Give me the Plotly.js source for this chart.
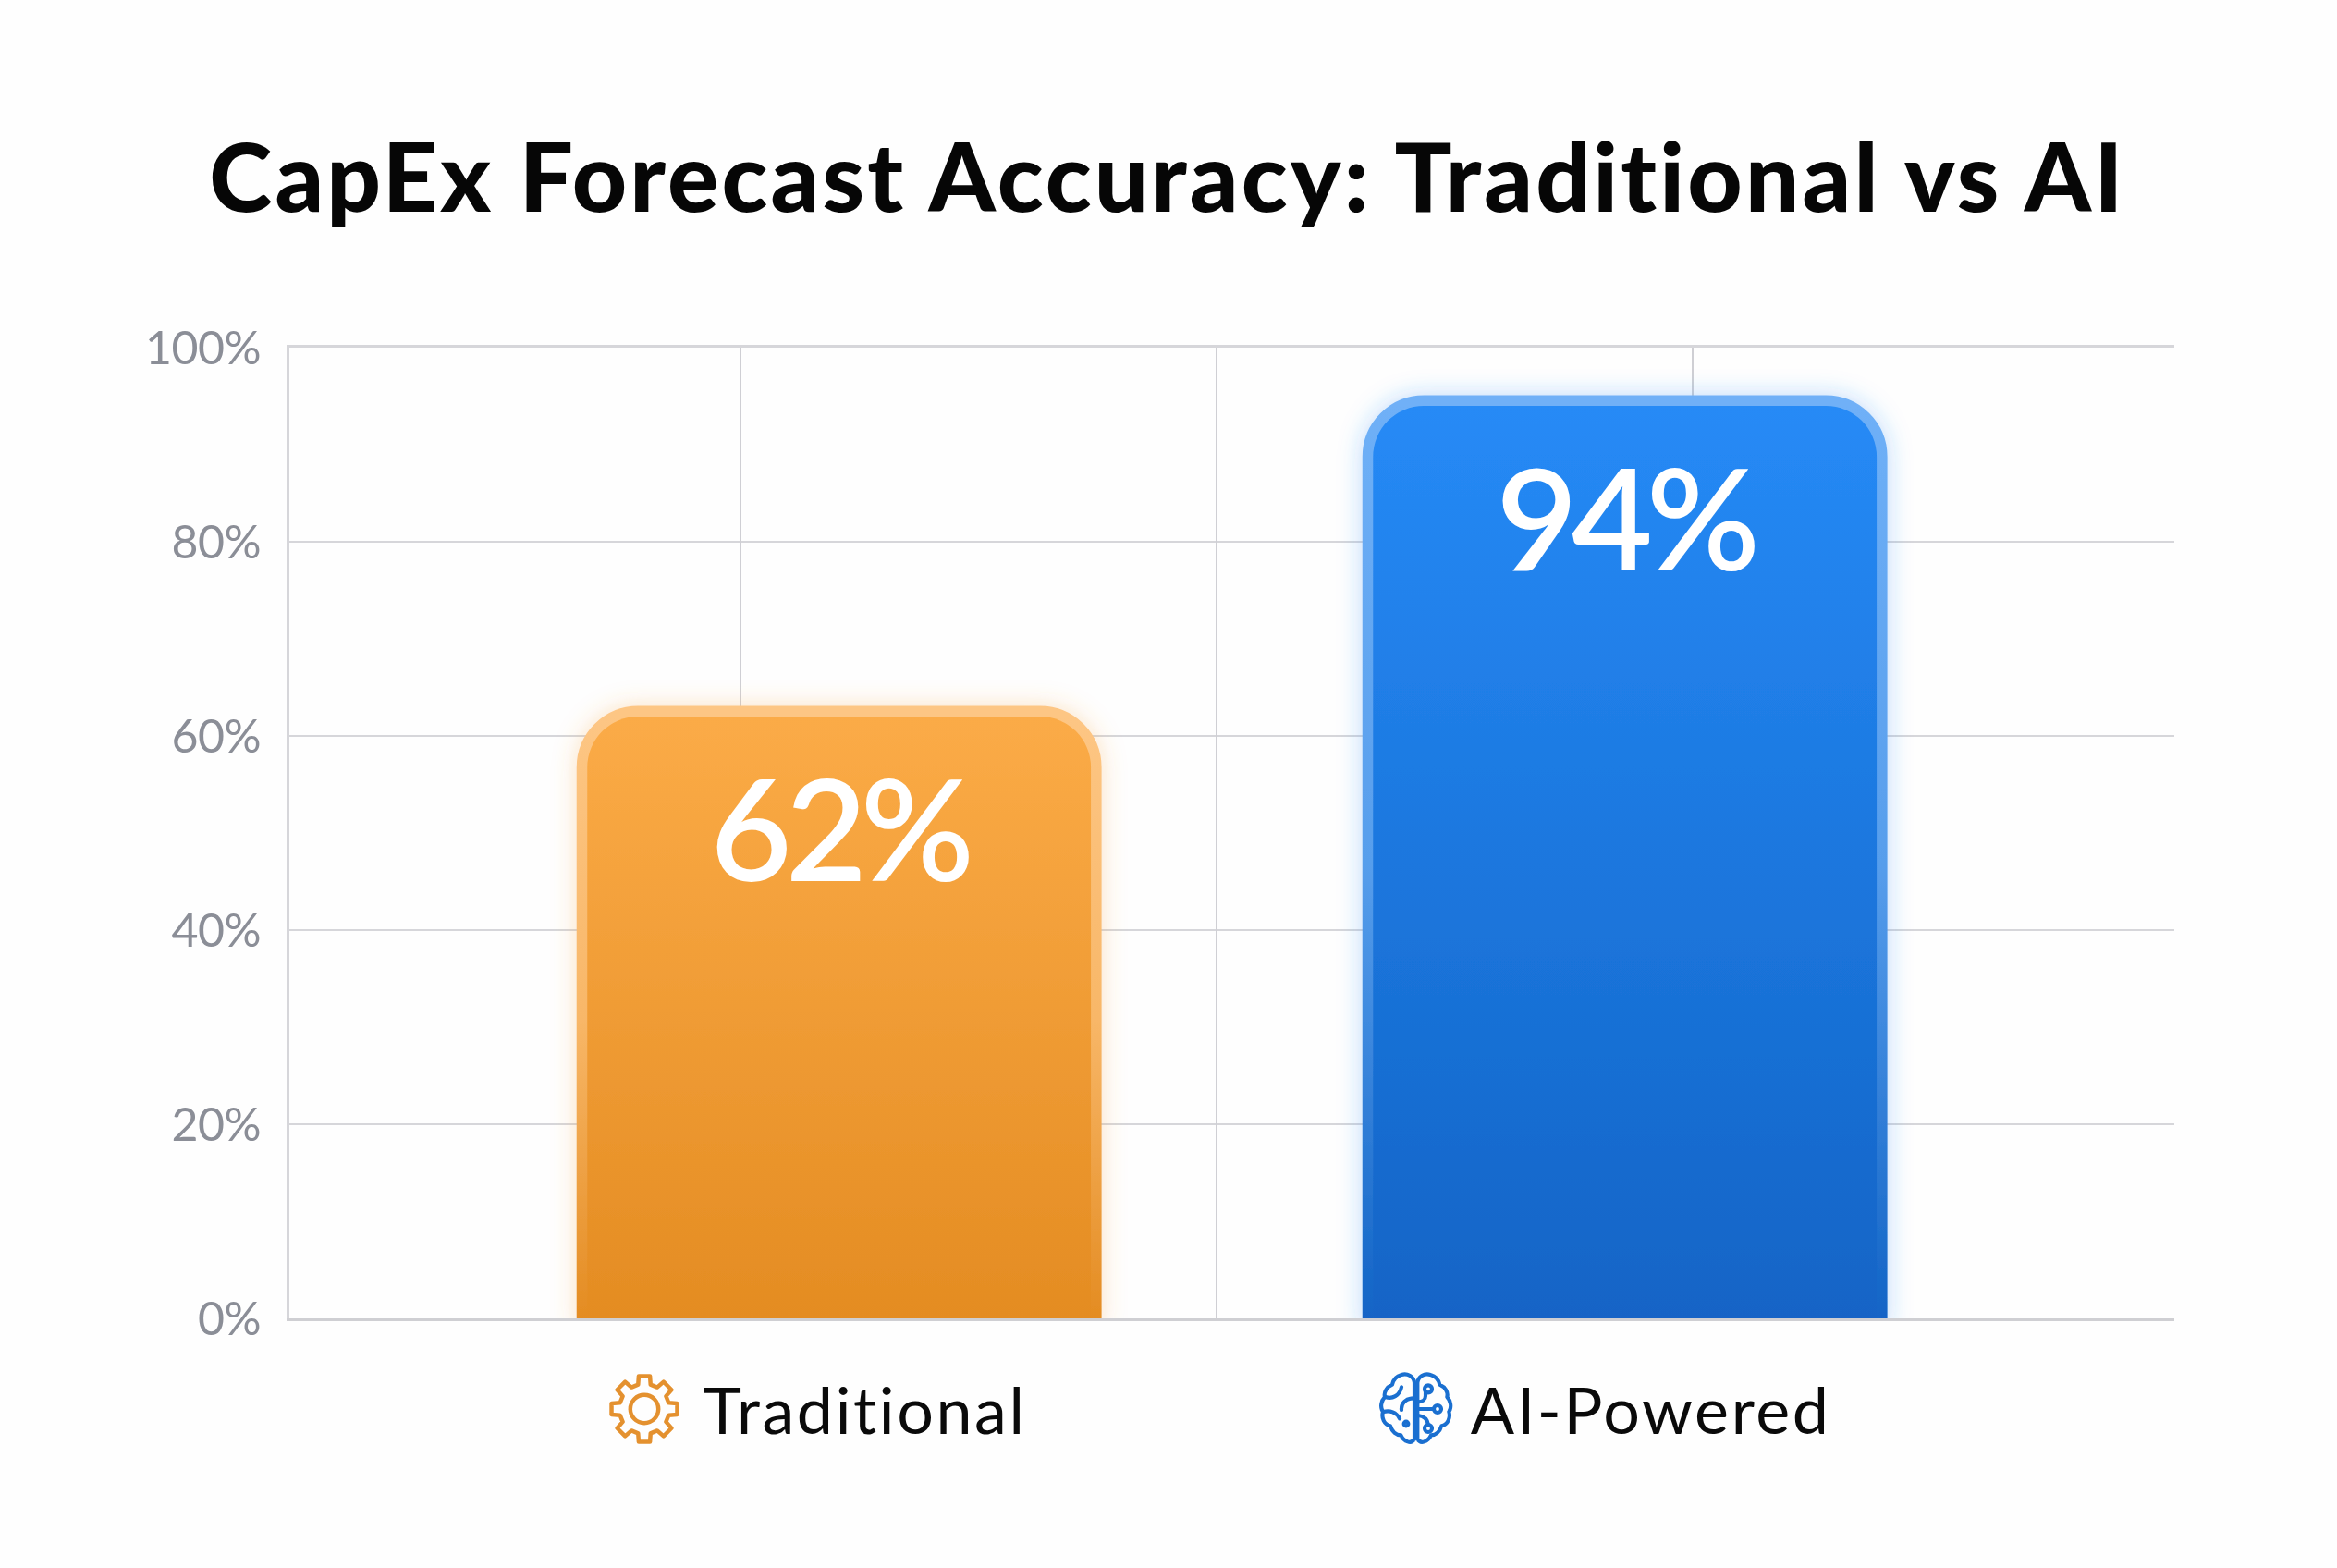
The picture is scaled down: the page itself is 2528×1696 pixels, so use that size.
<!DOCTYPE html>
<html><head><meta charset="utf-8">
<script src="https://cdn.plot.ly/plotly-3.0.1.min.js"></script>
<style>html,body{margin:0;padding:0;background:#fefefe}#chart{width:2528px;height:1696px}
#chart text{font-variant-ligatures:none}</style>
</head><body><div id="chart"></div>
<script>
const chartTitle = 'CapEx Forecast Accuracy: Traditional vs AI';
const categories = ['Traditional', 'AI-Powered'];
const accuracy = [62, 94];
const yTicks = [0, 20, 40, 60, 80, 100];
const gridX = [-0.125, 0.48, 1.086];
const FONT = 'Lato, sans-serif';

function gearPath() {
  let d = '';
  const teeth = 8, R = 45, r = 34, a = 0.17, b = 0.25;
  for (let i = 0; i < teeth; i++) {
    const t = -Math.PI / 2 + i * 2 * Math.PI / teeth;
    const pts = [[r, t - b], [R, t - a], [R, t + a], [r, t + b]];
    pts.forEach((p, j) => {
      d += ((i === 0 && j === 0) ? 'M' : 'L') + (50 + p[0] * Math.cos(p[1])).toFixed(2) + ' ' + (50 + p[0] * Math.sin(p[1])).toFixed(2);
    });
  }
  return d + 'Z';
}
const gearSvg = `<svg xmlns="http://www.w3.org/2000/svg" viewBox="0 0 100 100"><g fill="none" stroke="#e4912f" stroke-width="5.6" stroke-linejoin="round"><path d="${gearPath()}"/><circle cx="50" cy="50" r="19"/></g></svg>`;
const brainSvg = `<svg xmlns="http://www.w3.org/2000/svg" viewBox="0 0 300 300"><g fill="none" stroke="#1a6fd0" stroke-width="12.5" stroke-linecap="round" stroke-linejoin="round">
<path d="M150 245V62C148 42 128 30 108 36C92 40 82 50 78 68C60 76 50 92 54 108C42 120 38 142 48 156C42 176 52 198 72 202C78 222 92 232 106 232C116 254 140 262 150 245"/>
<path d="M160 245V62C162 42 182 30 202 36C218 40 228 50 232 68C250 76 260 92 256 108C268 120 272 142 262 156C268 176 258 198 238 202C232 222 218 232 204 232C194 254 170 262 160 245"/>
<path d="M56 108C78 116 102 104 108 76M50 156C70 150 92 158 102 178M108 150C106 128 122 112 148 112"/>
<circle cx="123" cy="195" r="7"/>
<circle cx="195" cy="82" r="12"/><path d="M186 94V104C186 116 176 124 162 124"/>
<circle cx="225" cy="147" r="12"/><path d="M213 147H162"/>
<circle cx="195" cy="210" r="12"/><path d="M195 198C192 178 180 170 162 168"/>
</g></svg>`;
const uri = s => 'data:image/svg+xml;charset=utf-8,' + encodeURIComponent(s);

const data = [
  { type: 'bar', x: categories, y: accuracy, xaxis: 'x', yaxis: 'y',
    marker: { color: ['#f5a33f', '#1c7ce0'], line: { color: ['#fdc684', '#6fb0f7'], width: 23 } },
    hoverinfo: 'x+y', showlegend: false },
  { type: 'scatter', mode: 'none', x: gridX, y: gridX.map(() => 0), xaxis: 'x2', yaxis: 'y',
    hoverinfo: 'skip', showlegend: false }
];
const gridColor = '#d6d6da';
const plotL = 313, plotR = 2352, plotT = 376, plotB = 1426;
const layout = {
  width: 2528, height: 1696,
  paper_bgcolor: '#fefefe', plot_bgcolor: 'rgba(0,0,0,0)',
  margin: { l: plotL, r: 2528 - plotR, t: plotT, b: 1696 - plotB, pad: 0, autoexpand: false },
  title: { text: chartTitle, x: 0.4996, xanchor: 'center', y: 0.886, yanchor: 'middle',
           font: { family: FONT, size: 103, weight: 900, color: '#060606' } },
  bargap: 0.359,
  barcornerradius: 55,
  xaxis: { type: 'category', categories: categories, categoryorder: 'array', categoryarray: categories,
           range: [-0.6996, 1.6992], showgrid: false, zeroline: false, showline: true, linecolor: '#cfcfd3', linewidth: 3,
           ticks: '', ticklabelshift: 28, ticklabelstandoff: 38,
           tickfont: { family: FONT, size: 70, color: '#0a0a0a' } },
  xaxis2: { overlaying: 'x', side: 'top', anchor: 'y', type: 'linear', range: [-0.6996, 1.6992],
            tickmode: 'array', tickvals: gridX, showticklabels: false, ticks: '',
            showgrid: true, gridcolor: '#cfcfd4', gridwidth: 2, zeroline: false,
            showline: true, linecolor: gridColor, linewidth: 3 },
  yaxis: { range: [0, 100], tickmode: 'array', tickvals: yTicks, ticktext: yTicks.map(v => v + '%'),
           showgrid: true, gridcolor: gridColor, gridwidth: 2.5, zeroline: false,
           showline: true, linecolor: gridColor, linewidth: 3, ticks: '', ticklabelstandoff: 18,
           tickfont: { family: FONT, size: 50, color: '#8b8e97' } },
  annotations: categories.map((c, i) => ({
    x: c, y: accuracy[i], xref: 'x', yref: 'y', text: accuracy[i] + '%', showarrow: false,
    xanchor: 'center', yanchor: 'middle', yshift: -119,
    font: { family: FONT, size: 152, weight: 600, color: '#ffffff' }
  })),
  images: [
    { source: uri(gearSvg), xref: 'paper', yref: 'paper', x: (697 - plotL) / (plotR - plotL), y: (plotB - 1524) / (plotB - plotT),
      sizex: 80 / (plotR - plotL), sizey: 80 / (plotB - plotT), xanchor: 'center', yanchor: 'middle', sizing: 'contain', layer: 'above' },
    { source: uri(brainSvg), xref: 'paper', yref: 'paper', x: (1530 - plotL) / (plotR - plotL), y: (plotB - 1525) / (plotB - plotT),
      sizex: 100 / (plotR - plotL), sizey: 100 / (plotB - plotT), xanchor: 'center', yanchor: 'middle', sizing: 'contain', layer: 'above' }
  ]
};

Plotly.newPlot('chart', data, layout, { displayModeBar: false, staticPlot: true }).then(gd => {
  const NS = 'http://www.w3.org/2000/svg';
  const svg = gd.querySelector('svg.main-svg');
  const defs = document.createElementNS(NS, 'defs');
  const grad = (id, stops) => {
    const g = document.createElementNS(NS, 'linearGradient');
    g.id = id; g.setAttribute('x1', 0); g.setAttribute('y1', 0); g.setAttribute('x2', 0); g.setAttribute('y2', 1);
    stops.forEach(([o, c]) => { const s = document.createElementNS(NS, 'stop'); s.setAttribute('offset', o); s.setAttribute('stop-color', c); g.appendChild(s); });
    defs.appendChild(g);
  };
  const glow = (id, color) => {
    const f = document.createElementNS(NS, 'filter');
    f.id = id; f.setAttribute('x', '-15%'); f.setAttribute('y', '-15%'); f.setAttribute('width', '130%'); f.setAttribute('height', '130%');
    const d = document.createElementNS(NS, 'feDropShadow');
    d.setAttribute('dx', 0); d.setAttribute('dy', 0); d.setAttribute('stdDeviation', 13);
    d.setAttribute('flood-color', color); d.setAttribute('flood-opacity', 0.32);
    f.appendChild(d); defs.appendChild(f);
  };
  grad('fill0', [[0, '#fbab47'], [1, '#e48c22']]);
  grad('fill1', [[0, '#268af6'], [1, '#1264c6']]);
  grad('edge0', [[0, '#fdc684'], [0.5, '#f8b768'], [1, '#e48c22']]);
  grad('edge1', [[0, '#6fb0f7'], [0.5, '#579eec'], [1, '#1264c6']]);
  glow('glow0', '#f5a33f');
  glow('glow1', '#2a8df8');
  svg.insertBefore(defs, svg.firstChild);
  gd.querySelectorAll('.bars .point path').forEach((p, i) => {
    p.style.setProperty('fill', `url(#fill${i})`);
    p.style.setProperty('stroke', `url(#edge${i})`);
    p.style.setProperty('paint-order', 'stroke');
    p.style.setProperty('filter', `url(#glow${i})`);
  });
  const tighten = (sel, px) => gd.querySelectorAll(sel).forEach(t => t.style.setProperty('letter-spacing', px + 'px'));
  tighten('.gtitle', 3.2);
  tighten('.annotation-text', -7);
  tighten('.xtick text', 2.6);
  tighten('.ytick text', -0.5);
});
</script></body></html>
